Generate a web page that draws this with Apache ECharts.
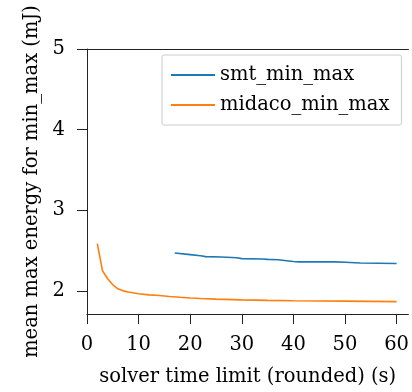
<!DOCTYPE html>
<html>
<head>
<meta charset="utf-8">
<script src="https://cdn.jsdelivr.net/npm/echarts@6/dist/echarts.min.js"></script>
<style>
  html, body { margin: 0; padding: 0; background: #fff; }
  #chart { width: 412px; height: 392px; }
</style>
</head>
<body>
<div id="chart"></div>
<script>
// values
const smtX = [17, 20, 22, 23, 26, 29, 30, 34, 35, 37, 40, 41, 48, 50, 53, 60];
const smtY = [2.47, 2.45, 2.435, 2.425, 2.42, 2.41, 2.40, 2.395, 2.39, 2.385, 2.365, 2.36, 2.36, 2.355, 2.345, 2.34];

const midacoX = [2, 3, 4, 5, 6, 7, 8, 10, 12, 14, 16, 18, 20, 22, 25, 30, 35, 40, 50, 60];
const midacoY = [2.585, 2.25, 2.15, 2.075, 2.025, 2.0, 1.985, 1.965, 1.95, 1.943, 1.93, 1.92, 1.912, 1.905, 1.897, 1.888, 1.882, 1.878, 1.873, 1.867];

const xTicks = [0, 10, 20, 30, 40, 50, 60];
const yTicks = [2, 3, 4, 5];

const FONT = "DejaVu Serif";
const FS = 19.5;
const INK = "#222";

const zip = (xs, ys) => xs.map((x, i) => [x, ys[i]]);

const chart = echarts.init(document.getElementById("chart"), null, { renderer: "canvas" });

chart.setOption({
  animation: false,
  textStyle: { fontFamily: FONT, color: "#000" },
  grid: { left: 87, right: 0, top: 49, bottom: 76, containLabel: false },
  legend: {
    orient: "vertical",
    left: 162,
    top: 55,
    padding: [10, 12, 10, 9],
    itemGap: 10,
    itemWidth: 44,
    itemHeight: 2,
    icon: "rect",
    borderColor: "#ccc",
    borderWidth: 1,
    borderRadius: 2,
    textStyle: { fontFamily: FONT, fontSize: FS, color: "#000", lineHeight: 20, height: 20 },
    data: ["smt_min_max", "midaco_min_max"]
  },
  xAxis: [
    {
      type: "value",
      min: 0,
      max: 62.3,
      name: "solver time limit (rounded) (s)",
      nameLocation: "middle",
      nameGap: 53,
      nameTextStyle: { fontFamily: FONT, fontSize: FS, color: "#000" },
      axisLine: { show: true, lineStyle: { color: INK, width: 1 } },
      axisTick: { show: true, length: 10, lineStyle: { color: INK }, customValues: xTicks },
      axisLabel: { margin: 21, fontFamily: FONT, fontSize: FS, color: "#000", customValues: xTicks },
      splitLine: { show: false }
    },
    {
      type: "value",
      position: "top",
      min: 0,
      max: 62.3,
      axisLine: { show: true, lineStyle: { color: INK, width: 1 } },
      axisTick: { show: false },
      axisLabel: { show: false },
      splitLine: { show: false }
    }
  ],
  yAxis: {
    type: "value",
    min: 1.713,
    max: 5,
    name: "mean max energy for min_max (mJ)",
    nameLocation: "middle",
    nameGap: 44,
    nameTextStyle: { fontFamily: FONT, fontSize: FS, color: "#000" },
    axisLine: { show: true, lineStyle: { color: INK, width: 1 } },
    axisTick: { show: true, length: 10, lineStyle: { color: INK }, customValues: yTicks },
    axisLabel: { margin: 22, fontFamily: FONT, fontSize: FS, color: "#000", customValues: yTicks },
    splitLine: { show: false }
  },
  series: [
    {
      name: "smt_min_max",
      type: "line",
      data: zip(smtX, smtY),
      symbol: "none",
      color: "#1f77b4",
      lineStyle: { width: 1.6 }
    },
    {
      name: "midaco_min_max",
      type: "line",
      data: zip(midacoX, midacoY),
      symbol: "none",
      color: "#ff7f0e",
      lineStyle: { width: 1.6 }
    }
  ]
});
</script>
</body>
</html>
